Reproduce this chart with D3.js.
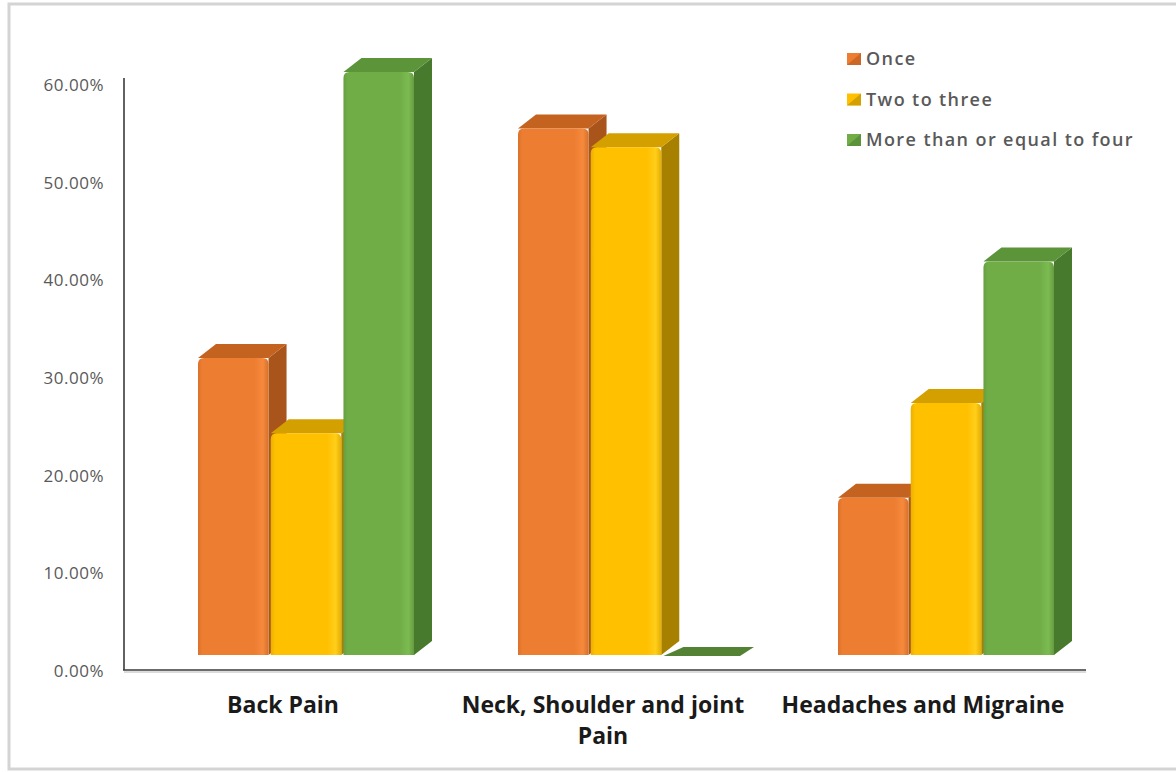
<!DOCTYPE html>
<html lang="en">
<head>
<meta charset="utf-8">
<title>Pain frequency 3D column chart</title>
<script src="https://cdn.jsdelivr.net/npm/d3@7"></script>
<style>
  body { margin: 0; background: #fff; }
  svg { display: block; }
</style>
</head>
<body>
<script>

// data
var categories = ["Back Pain", "Neck, Shoulder and joint Pain", "Headaches and Migraine"];
var series = ["Once", "Two to three", "More than or equal to four"];
var once = [0.304, 0.539, 0.161];
var twoToThree = [0.227, 0.52, 0.258];
var fourPlus = [0.597, 0.0, 0.403];
var yTicks = [0, 0.1, 0.2, 0.3, 0.4, 0.5, 0.6];

var values = [once, twoToThree, fourPlus];

// colours: front, top, side
var colors = [
  { front: "#ED7D31", light: "#F68A3C", top: "#C4631F", side: "#A9541B" },
  { front: "#FFC000", light: "#FFCE1A", top: "#D4A000", side: "#A88000" },
  { front: "#70AD47", light: "#7CBB52", top: "#5C943A", side: "#487A2E" }
];

var w = 1176, h = 772;
var depthX = 18, depthY = -14;   // 3d depth offset
var lift = 16;                   // front plane sits above label plane
var font = "'Open Sans', Lato, sans-serif";

var svg = d3.select("body").append("svg")
  .attr("width", w)
  .attr("height", h);

// frame
svg.append("rect")
  .attr("x", 9).attr("y", 4)
  .attr("width", 1175).attr("height", 765)
  .attr("fill", "#fff")
  .attr("stroke", "#d4d4d4")
  .attr("stroke-width", 3);

var yScale = d3.scaleLinear().domain([0, 0.6]).range([671, 85]);

var x0 = d3.scaleBand().domain(categories).range([124, 1084]);
var x1 = d3.scaleBand().domain(series).range([74, 290]).paddingInner(0.03);

// gradients for bevel look
var defs = svg.append("defs");
colors.forEach(function(c, i) {
  var g = defs.append("linearGradient").attr("id", "front" + i)
    .attr("x1", 0).attr("x2", 1).attr("y1", 0).attr("y2", 0);
  g.append("stop").attr("offset", "0%").attr("stop-color", d3.color(c.front).darker(0.25));
  g.append("stop").attr("offset", "6%").attr("stop-color", c.front);
  g.append("stop").attr("offset", "80%").attr("stop-color", c.front);
  g.append("stop").attr("offset", "92%").attr("stop-color", c.light);
  g.append("stop").attr("offset", "100%").attr("stop-color", d3.color(c.front).darker(0.3));
});

// y axis labels
var yAxis = d3.axisLeft(yScale)
  .tickValues(yTicks)
  .tickFormat(d3.format(".2%"))
  .tickSize(0)
  .tickPadding(20);

var gy = svg.append("g")
  .attr("transform", "translate(124,0)")
  .call(yAxis);
gy.select(".domain").remove();
gy.selectAll("text")
  .attr("font-family", font)
  .attr("font-size", "17px")
  .attr("letter-spacing", "0.5px")
  .attr("fill", "#595959");

// axis lines
svg.append("line")
  .attr("x1", 124).attr("x2", 124)
  .attr("y1", 78).attr("y2", 670)
  .attr("stroke", "#3a3a3a").attr("stroke-width", 1.6);
svg.append("line")
  .attr("x1", 123).attr("x2", 1086)
  .attr("y1", 670).attr("y2", 670)
  .attr("stroke", "#3a3a3a").attr("stroke-width", 1.6);
svg.append("line")
  .attr("x1", 124).attr("x2", 1086)
  .attr("y1", 672).attr("y2", 672)
  .attr("stroke", "#b8b8b8").attr("stroke-width", 1);

// bars
var bars = [];
categories.forEach(function(cat, ci) {
  series.forEach(function(s, si) {
    bars.push({ cat: cat, s: s, si: si, v: values[si][ci] });
  });
});

function topPath(x, yt, bw) {
  return "M" + x + "," + yt +
    "L" + (x + depthX) + "," + (yt + depthY) +
    "L" + (x + bw + depthX) + "," + (yt + depthY) +
    "L" + (x + bw) + "," + yt + "Z";
}
function sidePath(x, yt, yb, bw) {
  return "M" + (x + bw) + "," + yt +
    "L" + (x + bw + depthX) + "," + (yt + depthY) +
    "L" + (x + bw + depthX) + "," + (yb + depthY) +
    "L" + (x + bw) + "," + yb + "Z";
}
function frontPath(x, yt, yb, bw, r) {
  return "M" + x + "," + yb +
    "L" + x + "," + (yt + r) +
    "Q" + x + "," + yt + " " + (x + r) + "," + yt +
    "L" + (x + bw - r) + "," + yt +
    "Q" + (x + bw) + "," + yt + " " + (x + bw) + "," + (yt + r) +
    "L" + (x + bw) + "," + yb + "Z";
}

var bw = x1.bandwidth();
var gBars = svg.append("g");

bars.forEach(function(d) {
  var x = x0(d.cat) + x1(d.s);
  var yb = yScale(0) - lift;
  var yt = yScale(d.v) - lift;
  var c = colors[d.si];
  var g = gBars.append("g");

  if (d.v === 0) {
    // flat plate
    g.append("path")
      .attr("d", "M" + x + "," + (yb + 1) +
        "L" + (x + depthX + 2) + "," + (yb + depthY + 6) +
        "L" + (x + bw + depthX + 2) + "," + (yb + depthY + 6) +
        "L" + (x + bw + 6) + "," + (yb + 1) + "Z")
      .attr("fill", "#548235");
    return;
  }

  g.append("path").attr("d", sidePath(x, yt, yb, bw)).attr("fill", c.side);
  g.append("path").attr("d", topPath(x, yt, bw)).attr("fill", c.top);
  g.append("path").attr("d", frontPath(x, yt, yb, bw, 6)).attr("fill", "url(#front" + d.si + ")");
});

// category labels
var labelLines = [["Back Pain"], ["Neck, Shoulder and joint", "Pain"], ["Headaches and Migraine"]];
var gx = svg.append("g");
categories.forEach(function(cat, ci) {
  var cx = x0(cat) + x0.bandwidth() / 2 - 1;
  var t = gx.append("text")
    .attr("x", cx)
    .attr("y", 713)
    .attr("text-anchor", "middle")
    .attr("font-family", font)
    .attr("font-weight", "bold")
    .attr("font-size", "23px")
    .attr("fill", "#1a1a1a");
  labelLines[ci].forEach(function(line, li) {
    t.append("tspan")
      .attr("x", cx)
      .attr("dy", li === 0 ? 0 : 31)
      .text(line);
  });
});

// legend
var legend = svg.append("g").attr("transform", "translate(847,52)");
series.forEach(function(s, si) {
  var g = legend.append("g").attr("transform", "translate(0," + (si * 40.5) + ")");
  g.append("rect").attr("x", 0).attr("y", 1).attr("width", 14).attr("height", 12)
    .attr("fill", colors[si].front);
  g.append("path").attr("d", "M0,13L14,1L14,13Z").attr("fill", colors[si].side).attr("opacity", 0.5);
  g.append("text")
    .attr("x", 19).attr("y", 13)
    .attr("font-family", font)
    .attr("font-weight", 600)
    .attr("font-size", "18px")
    .attr("letter-spacing", "1.4px")
    .attr("fill", "#595959")
    .text(s);
});

</script>
</body>
</html>
